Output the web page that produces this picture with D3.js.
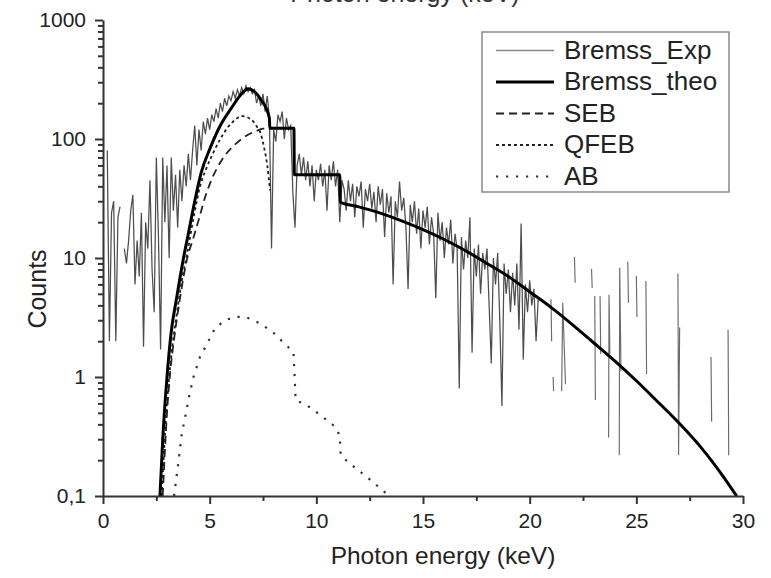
<!DOCTYPE html>
<html>
<head>
<meta charset="utf-8">
<script src="https://cdn.jsdelivr.net/npm/d3@7"></script>
<style>
  html, body { margin: 0; padding: 0; background: #ffffff; }
  svg { display: block; font-family: "Liberation Sans", Arial, Helvetica, sans-serif; }
</style>
</head>
<body>
<svg id="chart" width="771" height="578"></svg>
<script>
// ---------------- DATA ----------------
// Experimental bremsstrahlung spectrum, dense part: channel grid start / width (keV)
const expChannelStart = 0.2;
const expChannelWidth = 0.1;
// counts per channel from 0.2 keV to 20.4 keV (null = empty channel)
const expDenseCounts = [
  80, 2, 24, 30, 2, 22, 27, null, 12, 9,
  14, 25, 34, 6, 14, 7, 24, 1.8, 20, 12,
  45, 8, 3.5, 70, 15, 1.7, 70, 20, 60, 10,
  70, 25, 50, 18, 55, 30, 60, 40, 75, 45,
  80, 130, 60, 120, 80, 140, 110, 150, 120, 160,
  140, 180, 150, 200, 170, 220, 190, 230, 210, 250,
  220, 260, 230, 270, 240, 280, 250, 270, 240, 260,
  200, 230, 190, 240, 170, 230, 150, 12, 120, 95,
  160, 140, 170, 100, 150, 120, 130, 35, 18, 60,
  75, 50, 70, 45, 65, 40, 60, 30, 55, 45,
  62, 40, 55, 25, 60, 45, 65, 40, 55, 20,
  45, 38, 25, 45, 30, 42, 22, 40, 33, 44,
  18, 38, 30, 42, 26, 36, 20, 40, 28, 38,
  15, 35, 24, 33, 6, 30, 22, 44, 25, 32,
  18, 5.5, 28, 20, 30, 16, 26, 12, 25, 18,
  27, 13, 22, 16, 4.6, 24, 14, 20, 10, 18,
  13, 21, 9, 16, 12, 0.8, 15, 8, 14, 10,
  22, 1.6, 12, 7, 13, 5, 11, 8, 12, 4,
  1.3, 10, 6, 11, 3, 0.57, 9, 5, 8, 3.5,
  7.5, 4, 9, 2.5, 19.5, 1.4, 6, 3.5, 6.5, 4,
  5.5, 2.0, 4.5
];
// sparse high-energy part (isolated segments, null = break)
const expSparseEnergy = [21.0, 21.03, 21.05, 21.1, 21.12, 21.3, 21.5, 21.55, 21.68, 21.9,
  22.1, 22.13, 22.5, 22.9, 22.93, 23.0, 23.05, 23.08, 23.2, 23.3, 23.33, 23.5,
  23.7, 23.72, 23.76, 24.0, 24.2, 24.22, 24.28, 24.4, 24.6, 24.63, 24.8, 25.0, 25.03, 25.2,
  25.45, 25.48, 26.0, 26.95, 26.98, 27.03, 27.5, 28.5, 28.53, 29.0, 29.3, 29.33];
const expSparseCounts = [4.5, 2.0, null, 1.0, 0.76, null, 0.76, 4.2, 0.87, null,
  10.2, 6.2, null, 8.1, 5.6, null, 4.8, 0.64, null, 4.8, 1.56, null,
  0.31, 4.9, 1.56, null, 0.22, 8.3, 1.12, null, 9.3, 4.2, null, 7.1, 3.2, null,
  6.4, 1.06, null, 7.4, 0.22, 2.6, null, 1.47, 0.42, null, 2.5, 0.22];

// Theoretical total bremsstrahlung
const theoEnergy = [2.67, 2.8, 3.0, 3.2, 3.45, 3.75, 4.0, 4.3, 4.6, 5.0,
  5.5, 6.0, 6.5, 6.8, 7.1, 7.4, 7.8, 7.82, 8.95, 8.97,
  11.1, 11.12, 12, 13, 14, 15, 16, 17, 18, 19,
  20, 21, 22, 23, 24, 25, 26, 27, 28, 29, 29.7];
const theoCounts = [0.1, 0.3, 1.0, 2.4, 4.6, 9.5, 16, 30, 52, 82,
  130, 180, 240, 265, 250, 215, 150, 123, 123, 50,
  50, 29.5, 26.9, 23.8, 20.5, 17.3, 14.3, 11.5, 9.0, 7.0,
  5.2, 3.85, 2.76, 1.94, 1.36, 0.93, 0.62, 0.41, 0.26, 0.152, 0.1];

// SEB
const sebEnergy = [2.8, 3.0, 3.15, 3.35, 3.6, 3.95, 4.25, 4.55, 4.8, 5.1, 5.6, 6.1, 6.56, 7.2, 7.5, 7.8];
const sebCounts = [0.1, 0.5, 1.1, 2.2, 4.5, 10, 15, 23, 33, 46, 68, 87, 102, 117, 122, 124];

// QFEB
const qfebEnergy = [2.75, 3.0, 3.2, 3.45, 3.7, 3.95, 4.25, 4.55, 4.85, 5.16,
  5.5, 5.86, 6.2, 6.5, 6.9, 7.2, 7.4, 7.55, 7.7, 7.83];
const qfebCounts = [0.1, 0.6, 1.5, 3.3, 6.5, 11, 22, 40, 57, 76,
  100, 126, 145, 156, 148, 128, 110, 85, 60, 37];

// AB
const abEnergy = [3.33, 3.53, 3.69, 3.85, 4.03, 4.24, 4.55, 4.78, 5.25, 5.72,
  6.19, 6.66, 7.13, 7.6, 8.02, 8.45, 8.93, 9.03, 9.54, 9.98,
  10.45, 10.9, 11.1, 11.14, 11.53, 12.0, 12.44, 12.9, 13.33];
const abCounts = [0.1, 0.19, 0.33, 0.46, 0.68, 1.0, 1.48, 1.76, 2.57, 3.0,
  3.2, 3.2, 2.97, 2.64, 2.33, 1.95, 1.62, 0.64, 0.58, 0.51,
  0.44, 0.38, 0.32, 0.22, 0.19, 0.163, 0.141, 0.12, 0.103];

const xTickValues = [0, 5, 10, 15, 20, 25, 30];
const xMinorTickValues = [2.5, 7.5, 12.5, 17.5, 22.5, 27.5];
const yTickValues = [0.1, 1, 10, 100, 1000];
const yTickLabels = ["0,1", "1", "10", "100", "1000"];
const legendLabels = ["Bremss_Exp", "Bremss_theo", "SEB", "QFEB", "AB"];

// ---------------- CHART ----------------
const svg = d3.select("#chart");
const x = d3.scaleLinear().domain([0, 30]).range([103, 743]);
const y = d3.scaleLog().domain([0.1, 1000]).range([496, 20]);

svg.append("defs").append("clipPath").attr("id", "plotclip")
  .append("rect").attr("x", x(0)).attr("y", y(1000) - 2)
  .attr("width", x(30) - x(0) + 2).attr("height", y(0.1) - y(1000) + 2);

const pairs = (es, cs) => es.map((e, i) => ({ e: e, c: cs[i] }));
const expDense = expDenseCounts.map((c, i) => ({ e: expChannelStart + i * expChannelWidth, c: c }));
const expSparse = pairs(expSparseEnergy, expSparseCounts);

const lineLinear = d3.line().defined(d => d.c != null && d.c > 0)
  .x(d => x(d.e)).y(d => y(d.c));
const lineSmooth = d3.line().defined(d => d.c != null && d.c > 0)
  .x(d => x(d.e)).y(d => y(d.c)).curve(d3.curveMonotoneX);

const plot = svg.append("g").attr("clip-path", "url(#plotclip)");

plot.append("path").datum(expDense).attr("d", lineLinear)
  .attr("fill", "none").attr("stroke", "#4e4e4e").attr("stroke-width", 1.25);
plot.append("path").datum(expSparse).attr("d", lineLinear)
  .attr("fill", "none").attr("stroke", "#6a6a6a").attr("stroke-width", 1.15);

plot.append("path").datum(pairs(sebEnergy, sebCounts)).attr("d", lineSmooth)
  .attr("fill", "none").attr("stroke", "#222").attr("stroke-width", 1.8)
  .attr("stroke-dasharray", "8,5");
plot.append("path").datum(pairs(qfebEnergy, qfebCounts)).attr("d", lineSmooth)
  .attr("fill", "none").attr("stroke", "#222").attr("stroke-width", 1.8)
  .attr("stroke-dasharray", "3,3");
plot.append("path").datum(pairs(abEnergy, abCounts)).attr("d", lineLinear)
  .attr("fill", "none").attr("stroke", "#333").attr("stroke-width", 2.2)
  .attr("stroke-dasharray", "2.2,7.8");
plot.append("path").datum(pairs(theoEnergy, theoCounts)).attr("d", lineSmooth)
  .attr("fill", "none").attr("stroke", "#000").attr("stroke-width", 3);

// Axes
const axisColor = "#333";
function styleAxis(g, fontSize) {
  g.select(".domain").attr("stroke", axisColor).attr("stroke-width", 2);
  g.selectAll(".tick line").attr("stroke", axisColor).attr("stroke-width", 2);
  g.selectAll(".tick text").attr("fill", "#222").style("font-size", fontSize + "px")
    .style("font-family", '"Liberation Sans", Arial, sans-serif');
}
const gx = svg.append("g").attr("transform", `translate(0,${y(0.1)})`)
  .call(d3.axisBottom(x).tickValues(xTickValues).tickSize(8).tickSizeOuter(0).tickPadding(9)
    .tickFormat(d3.format("d")));
styleAxis(gx, 21);
const gxm = svg.append("g").attr("transform", `translate(0,${y(0.1)})`)
  .call(d3.axisBottom(x).tickValues(xMinorTickValues).tickSize(5).tickSizeOuter(0).tickFormat(""));
styleAxis(gxm, 21);

const yMinor = [];
[0.1, 1, 10, 100].forEach(dec => { for (let k = 2; k <= 9; k++) yMinor.push(dec * k); });
const gy = svg.append("g").attr("transform", `translate(${x(0)},0)`)
  .call(d3.axisLeft(y).tickValues(yTickValues).tickSize(8).tickSizeOuter(0).tickPadding(9)
    .tickFormat((d, i) => yTickLabels[i]));
styleAxis(gy, 21);
const gym = svg.append("g").attr("transform", `translate(${x(0)},0)`)
  .call(d3.axisLeft(y).tickValues(yMinor).tickSize(5).tickSizeOuter(0).tickFormat(""));
styleAxis(gym, 21);
gym.select(".domain").remove();
gxm.select(".domain").remove();

// Titles
svg.append("text").attr("x", 443).attr("y", 564).attr("text-anchor", "middle")
  .style("font-size", "24.5px").attr("fill", "#222").text("Photon energy (keV)");
svg.append("text").attr("transform", "translate(46,289) rotate(-90)").attr("text-anchor", "middle")
  .style("font-size", "25px").attr("fill", "#222").text("Counts");
// cropped top title (only its bottom edge is visible in the original figure)
svg.append("text").attr("x", 405).attr("y", 1.5).attr("text-anchor", "middle")
  .style("font-size", "25px").attr("fill", "#333").text("Photon energy (keV)");

// Legend
const lg = svg.append("g");
lg.append("rect").attr("x", 482).attr("y", 32).attr("width", 247).attr("height", 160)
  .attr("fill", "#fff").attr("stroke", "#8a8a8a").attr("stroke-width", 1.5);
const legStyles = [
  { stroke: "#8a8a8a", w: 1.5, dash: null },
  { stroke: "#000", w: 3, dash: null },
  { stroke: "#222", w: 1.8, dash: "8,5" },
  { stroke: "#222", w: 1.8, dash: "3,3" },
  { stroke: "#333", w: 2.2, dash: "2.2,7.8" }
];
legendLabels.forEach((lab, i) => {
  const by = 58.5 + i * 31.5;
  const ln = lg.append("line").attr("x1", 496).attr("x2", 554).attr("y1", by - 8).attr("y2", by - 8)
    .attr("stroke", legStyles[i].stroke).attr("stroke-width", legStyles[i].w);
  if (legStyles[i].dash) ln.attr("stroke-dasharray", legStyles[i].dash);
  lg.append("text").attr("x", 564).attr("y", by).style("font-size", "26px")
    .attr("fill", "#222").text(lab);
});
</script>
</body>
</html>
